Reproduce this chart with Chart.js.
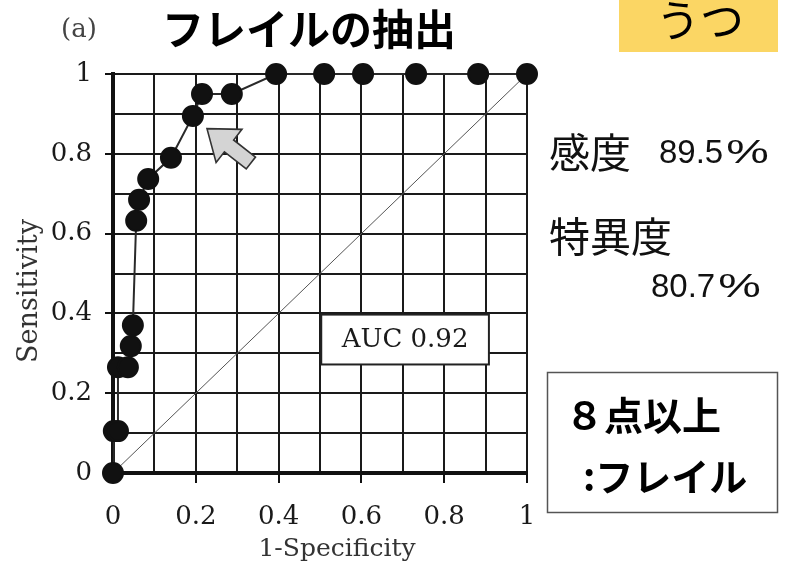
<!DOCTYPE html>
<html>
<head>
<meta charset="utf-8">
<title>フレイルの抽出 ROC</title>
<script src="https://cdn.jsdelivr.net/npm/chart.js@4.4.1/dist/chart.umd.min.js"></script>
<style>
  html, body { margin: 0; padding: 0; background: #fff; }
  #wrap { width: 788px; height: 569px; }
</style>
</head>
<body>
<div id="wrap"><canvas id="roc" width="788" height="569"></canvas></div>
<script>
// ROC curve of the frailty screening score (depression item set)
const fpr = [0, 0.002, 0.012, 0.012, 0.036, 0.043, 0.048, 0.056, 0.063, 0.085, 0.14, 0.193, 0.215, 0.287, 0.394, 0.51, 0.604, 0.732, 0.882, 1];
const tpr = [0, 0.105, 0.105, 0.265, 0.265, 0.318, 0.37, 0.632, 0.685, 0.737, 0.79, 0.895, 0.95, 0.95, 1, 1, 1, 1, 1, 1];
const chanceLine = [0, 1];
const axisTicks = [0, 0.2, 0.4, 0.6, 0.8, 1];

// operating point at the cutoff (8 points and above)
const cutoffSensitivity = 0.895;
const cutoffSpecificity = 0.807;
const auc = 0.92;

const titleText = 'フレイルの抽出';
const panelLabel = '(a)';
const tagText = 'うつ';
const cutoffLines = ['８点以上', ':フレイル'];

const SERIF = '"DejaVu Serif", "Liberation Serif", serif';
const JP = '"Noto Sans CJK JP", "Noto Sans", sans-serif';
const NUM = '"Liberation Sans", Arial, sans-serif';

const rocPoints = fpr.map((x, i) => ({ x, y: tpr[i] }));
const chancePoints = chanceLine.map(v => ({ x: v, y: v }));

function tickLabel(value) {
  const k = Math.round(value * 10);
  const shown = axisTicks.some(t => Math.round(t * 10) === k);
  if (!shown) return '';
  if (k === 0) return '0';
  if (k === 10) return '1';
  return (k / 10).toFixed(1);
}
function tickMarkColor(ctx) {
  const k = Math.round(ctx.tick.value * 10);
  return axisTicks.some(t => Math.round(t * 10) === k) ? '#111' : 'rgba(0,0,0,0)';
}

function drawText(ctx, text, x, y, font, color, align, baseline) {
  ctx.save();
  ctx.font = font;
  ctx.fillStyle = color;
  ctx.textAlign = align || 'left';
  ctx.textBaseline = baseline || 'middle';
  ctx.fillText(text, x, y);
  ctx.restore();
}

// percentage with a wide percent sign
function drawPercent(ctx, value, x, y) {
  const num = (value * 100).toFixed(1);
  ctx.save();
  ctx.font = '33px ' + NUM;
  ctx.fillStyle = '#111';
  ctx.textBaseline = 'middle';
  ctx.textAlign = 'left';
  ctx.fillText(num, x, y);
  const w = ctx.measureText(num).width;
  ctx.translate(x + w + 3, y);
  ctx.scale(1.45, 1);
  ctx.fillText('%', 0, 0);
  ctx.restore();
}

const decor = {
  id: 'decor',
  afterDatasetsDraw(chart) {
    const ctx = chart.ctx;
    const xs = chart.scales.x, ys = chart.scales.y;

    // AUC box
    const bx0 = xs.getPixelForValue(0.503), bx1 = xs.getPixelForValue(0.908);
    const by0 = ys.getPixelForValue(0.397), by1 = ys.getPixelForValue(0.272);
    ctx.save();
    ctx.fillStyle = '#fff';
    ctx.fillRect(bx0, by0, bx1 - bx0, by1 - by0);
    ctx.strokeStyle = '#222';
    ctx.lineWidth = 2;
    ctx.strokeRect(bx0, by0, bx1 - bx0, by1 - by0);
    ctx.restore();
    drawText(ctx, 'AUC ' + auc.toFixed(2), (bx0 + bx1) / 2, (by0 + by1) / 2 + 1,
      '26px ' + SERIF, '#1a1a1a', 'center', 'middle');

    // arrow pointing at the cutoff point
    const tipX = xs.getPixelForValue(1 - cutoffSpecificity + 0.034);
    const tipY = ys.getPixelForValue(cutoffSensitivity - 0.032);
    const tailX = xs.getPixelForValue(1 - cutoffSpecificity + 0.14);
    const tailY = ys.getPixelForValue(cutoffSensitivity - 0.118);
    const dx = tailX - tipX, dy = tailY - tipY;
    const len = Math.hypot(dx, dy);
    const ux = dx / len, uy = dy / len;
    const nx = -uy, ny = ux;
    const head = 28, hw = 21, sw = 7.5;
    const bx = tipX + ux * head, byy = tipY + uy * head;
    const pts = [
      [tipX, tipY],
      [bx + nx * hw, byy + ny * hw],
      [bx + nx * sw, byy + ny * sw],
      [tailX + nx * sw, tailY + ny * sw],
      [tailX - nx * sw, tailY - ny * sw],
      [bx - nx * sw, byy - ny * sw],
      [bx - nx * hw, byy - ny * hw]
    ];
    ctx.save();
    ctx.beginPath();
    pts.forEach((p, i) => i ? ctx.lineTo(p[0], p[1]) : ctx.moveTo(p[0], p[1]));
    ctx.closePath();
    ctx.fillStyle = '#d4d4d4';
    ctx.fill();
    ctx.strokeStyle = '#333';
    ctx.lineWidth = 1.6;
    ctx.lineJoin = 'miter';
    ctx.stroke();
    ctx.restore();
  },
  afterDraw(chart) {
    const ctx = chart.ctx;

    // axis titles
    ctx.save();
    ctx.translate(30, 291);
    ctx.rotate(-Math.PI / 2);
    drawText(ctx, 'Sensitivity', 0, 0, '27px ' + SERIF, '#333', 'center', 'middle');
    ctx.restore();
    drawText(ctx, '1-Specificity', 337, 549, '25px ' + SERIF, '#333', 'center', 'middle');

    // panel label and title
    drawText(ctx, panelLabel, 79, 30, '26px ' + SERIF, '#444', 'center', 'middle');
    drawText(ctx, titleText, 309, 29, 'bold 42px ' + JP, '#000', 'center', 'middle');

    // tag in the top right
    ctx.save();
    ctx.fillStyle = '#FBD664';
    ctx.fillRect(619, 0, 159, 52);
    ctx.restore();
    drawText(ctx, tagText, 700, 20, '44px ' + JP, '#000', 'center', 'middle');

    // sensitivity / specificity at the cutoff
    drawText(ctx, '感度', 549, 152, '41px ' + JP, '#111', 'left', 'middle');
    drawPercent(ctx, cutoffSensitivity, 659, 154);
    drawText(ctx, '特異度', 549, 236, '41px ' + JP, '#111', 'left', 'middle');
    drawPercent(ctx, cutoffSpecificity, 651, 288);

    // cutoff box
    ctx.save();
    ctx.strokeStyle = '#555';
    ctx.lineWidth = 1.5;
    ctx.strokeRect(547.5, 372.5, 230, 140);
    ctx.restore();
    drawText(ctx, cutoffLines[0], 565, 415, 'bold 39px ' + JP, '#000', 'left', 'middle');
    drawText(ctx, cutoffLines[1], 583, 477, 'bold 38px ' + JP, '#000', 'left', 'middle');
  }
};

new Chart(document.getElementById('roc'), {
  type: 'scatter',
  data: {
    datasets: [
      {
        label: 'ROC',
        data: rocPoints,
        showLine: true,
        borderColor: '#2a2a2a',
        borderWidth: 2,
        backgroundColor: '#111',
        pointBackgroundColor: '#111',
        pointBorderColor: '#111',
        pointRadius: 10,
        pointHoverRadius: 10,
        clip: false
      },
      {
        label: 'chance',
        data: chancePoints,
        showLine: true,
        borderColor: '#555',
        borderWidth: 1,
        pointRadius: 0,
        pointHoverRadius: 0
      }
    ]
  },
  options: {
    responsive: false,
    animation: false,
    events: [],
    layout: { padding: { top: 74, right: 261, left: 0, bottom: 0 } },
    plugins: { legend: { display: false }, tooltip: { enabled: false }, title: { display: false } },
    scales: {
      x: {
        type: 'linear',
        min: 0,
        max: 1,
        afterFit(scale) { scale.height = 96; },
        ticks: {
          stepSize: 0.1,
          autoSkip: false,
          maxRotation: 0,
          padding: 19,
          color: '#1a1a1a',
          font: { family: SERIF, size: 26 },
          callback: tickLabel
        },
        grid: {
          color: '#1a1a1a',
          lineWidth: 2,
          tickLength: 10,
          tickWidth: 2,
          tickColor: tickMarkColor
        },
        border: { display: true, color: '#111', width: 4 }
      },
      y: {
        type: 'linear',
        min: 0,
        max: 1,
        afterFit(scale) { scale.width = 113; },
        ticks: {
          stepSize: 0.1,
          autoSkip: false,
          padding: 13,
          color: '#1a1a1a',
          font: { family: SERIF, size: 26 },
          callback: tickLabel
        },
        grid: {
          color: '#1a1a1a',
          lineWidth: 2,
          tickLength: 8,
          tickWidth: 2,
          tickColor: tickMarkColor
        },
        border: { display: true, color: '#111', width: 4 }
      }
    }
  },
  plugins: [decor]
});
</script>
</body>
</html>
